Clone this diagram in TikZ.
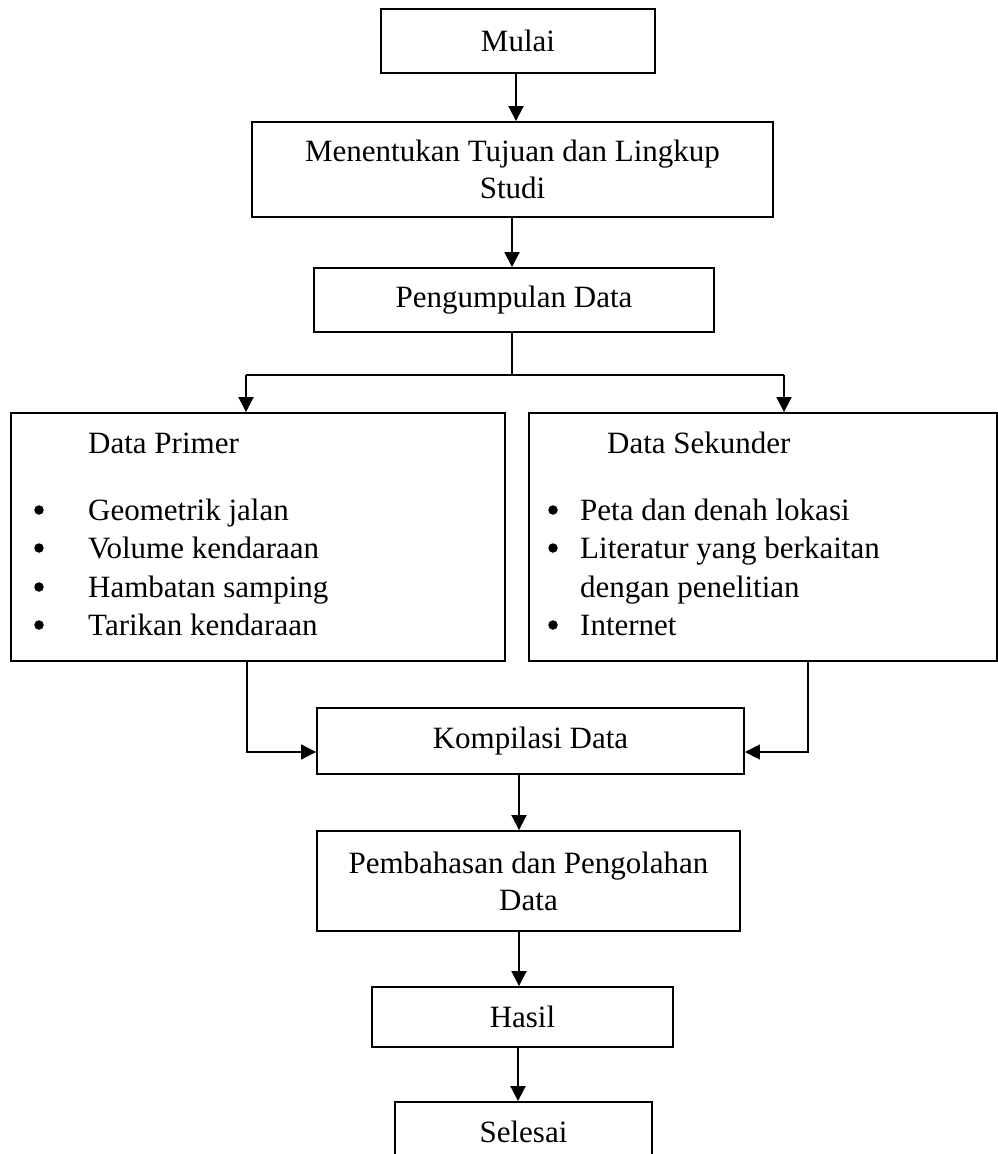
\documentclass[tikz,border=0pt]{standalone}
\usepackage{fontspec}
\setmainfont{Liberation Serif}
\usetikzlibrary{arrows.meta}
\begin{document}
\begin{tikzpicture}[x=1pt,y=-1pt,
  box/.style={draw,line width=1.9pt,inner sep=0pt,align=center,font=\fontsize{31}{37}\selectfont},
  txt/.style={inner sep=0pt,font=\fontsize{31}{37}\selectfont},
  bul/.style={circle,fill,inner sep=0pt,minimum size=9.5pt},
  arr/.style={line width=1.9pt,-{Triangle[length=15pt,width=15pt]}},
  thin/.style={line width=1.4pt},
  thinarr/.style={line width=1.6pt,-{Triangle[length=15pt,width=15pt]}}]
\useasboundingbox (0,0) rectangle (998,1154);

\node[box,minimum width=274pt,minimum height=64pt] (mulai) at (518,41) {Mulai};
\node[box,minimum width=521pt,minimum height=95pt] (tujuan) at (512.5,169.5) {Menentukan Tujuan dan Lingkup\\Studi};
\node[box,minimum width=400pt,minimum height=64pt] (kumpul) at (514,300) {Pengumpulan Data};
\node[box,minimum width=494pt,minimum height=248pt] (primer) at (258,537) {};
\node[box,minimum width=468pt,minimum height=248pt] (sekunder) at (763,537) {};
\node[box,minimum width=427pt,minimum height=66pt] (kompilasi) at (530.5,741) {Kompilasi Data};
\node[box,minimum width=423pt,minimum height=100pt] (bahas) at (528.5,881) {Pembahasan dan Pengolahan\\Data};
\node[box,minimum width=301pt,minimum height=60pt] (hasil) at (522.5,1017) {Hasil};
\node[box,minimum width=257pt,minimum height=60pt] (selesai) at (523.5,1132) {Selesai};

% Data Primer contents
\node[txt,anchor=base west] (ptitle) at (88,453) {Data Primer};
\node[bul] (pb1) at (39,510) {};
\node[txt,anchor=base west] (pi1) at (88,520) {Geometrik jalan};
\node[bul] (pb2) at (39,548) {};
\node[txt,anchor=base west] (pi2) at (88,558) {Volume kendaraan};
\node[bul] (pb3) at (39,587) {};
\node[txt,anchor=base west] (pi3) at (88,597) {Hambatan samping};
\node[bul] (pb4) at (39,625) {};
\node[txt,anchor=base west] (pi4) at (88,635) {Tarikan kendaraan};

% Data Sekunder contents
\node[txt,anchor=base west] (stitle) at (607,453) {Data Sekunder};
\node[bul] (sb1) at (553,510) {};
\node[txt,anchor=base west] (si1) at (580,520) {Peta dan denah lokasi};
\node[bul] (sb2) at (553,548) {};
\node[txt,anchor=base west] (si2) at (580,558) {Literatur yang berkaitan};
\node[txt,anchor=base west] (si3) at (580,597) {dengan penelitian};
\node[bul] (sb4) at (553,625) {};
\node[txt,anchor=base west] (si4) at (580,635) {Internet};

% connectors
\draw[arr] ([xshift=-2pt]mulai.south) -- ([xshift=-2pt]mulai.south |- tujuan.north);
\draw[arr] ([xshift=-0.5pt]tujuan.south) -- ([xshift=-0.5pt]tujuan.south |- kumpul.north);

\coordinate (sm) at (512,375);
\coordinate (sl) at (246,375);
\coordinate (sr) at (784,375);
\draw[thin] (kumpul.south -| sm) -- (sm);
\draw[line width=1.9pt] (sl) -- (sr);
\draw[arr] (sl) -- (sl |- primer.north);
\draw[arr] (sr) -- (sr |- sekunder.north);

\draw[thinarr] ([xshift=-11pt]primer.south) |- ([yshift=-11pt]kompilasi.west);
\draw[thinarr] ([xshift=45pt]sekunder.south) |- ([yshift=-11pt]kompilasi.east);

\draw[arr] ([xshift=-11.5pt]kompilasi.south) -- ([xshift=-11.5pt]kompilasi.south |- bahas.north);
\draw[arr] ([xshift=-9.5pt]bahas.south) -- ([xshift=-9.5pt]bahas.south |- hasil.north);
\draw[arr] ([xshift=-4.5pt]hasil.south) -- ([xshift=-4.5pt]hasil.south |- selesai.north);
\end{tikzpicture}
\end{document}
